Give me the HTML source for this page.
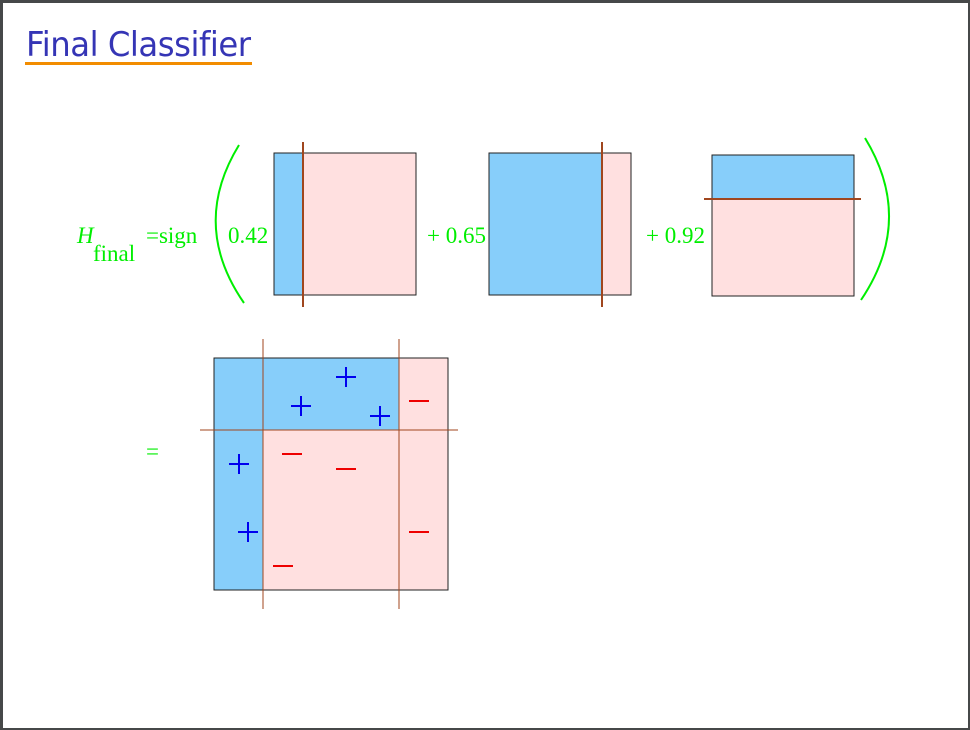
<!DOCTYPE html>
<html><head><meta charset="utf-8"><style>
html,body{margin:0;padding:0}
body{width:970px;height:730px;background:#464849;position:relative;overflow:hidden}
#slide{position:absolute;left:3px;top:3px;width:965px;height:725px;background:#fff}
#title{position:absolute;left:23px;top:22px;font:34px "DejaVu Sans","Liberation Sans",sans-serif;color:#3535b5;letter-spacing:-0.5px;transform:scaleX(0.95);transform-origin:0 0}
#ul{position:absolute;left:22px;top:59px;width:227px;height:3px;background:#f28c00}
</style></head><body>
<div id="slide">
<div id="title">Final Classifier</div>
<div id="ul"></div>
</div>
<svg width="970" height="730" style="position:absolute;left:0;top:0">
<g font-family="Liberation Serif, serif" font-size="23" fill="#00ee00">
<text x="77" y="243" font-style="italic">H</text>
<text x="93" y="261">final</text>
<text x="146" y="243">=sign</text>
<text x="228" y="243">0.42</text>
<text x="427" y="243">+ 0.65</text>
<text x="646" y="243">+ 0.92</text>
<text x="146" y="459">=</text>
</g>
<path d="M239,145 Q190,225 244,303" fill="none" stroke="#00ee00" stroke-width="2"/>
<path d="M865,138 Q915,220 861,300" fill="none" stroke="#00ee00" stroke-width="2"/>
<g>
<rect x="274" y="153" width="29" height="142" fill="#87cefa"/>
<rect x="303" y="153" width="113" height="142" fill="#ffe0e0"/>
<rect x="274" y="153" width="142" height="142" fill="none" stroke="#222" stroke-width="1"/>
<line x1="303" y1="142" x2="303" y2="307" stroke="#a0461e" stroke-width="2"/>
</g>
<g>
<rect x="489" y="153" width="113" height="142" fill="#87cefa"/>
<rect x="602" y="153" width="29" height="142" fill="#ffe0e0"/>
<rect x="489" y="153" width="142" height="142" fill="none" stroke="#222" stroke-width="1"/>
<line x1="602" y1="142" x2="602" y2="307" stroke="#a0461e" stroke-width="2"/>
</g>
<g>
<rect x="712" y="155" width="142" height="44" fill="#87cefa"/>
<rect x="712" y="199" width="142" height="97" fill="#ffe0e0"/>
<rect x="712" y="155" width="142" height="141" fill="none" stroke="#222" stroke-width="1"/>
<line x1="704" y1="199" x2="861" y2="199" stroke="#a0461e" stroke-width="2"/>
</g>
<g>
<rect x="214" y="358" width="234" height="232" fill="#ffe0e0"/>
<rect x="214" y="358" width="49" height="232" fill="#87cefa"/>
<rect x="263" y="358" width="136" height="72" fill="#87cefa"/>
<rect x="214" y="358" width="234" height="232" fill="none" stroke="#222" stroke-width="1"/>
<line x1="263" y1="339" x2="263" y2="609" stroke="#a0461e" stroke-width="1"/>
<line x1="399" y1="339" x2="399" y2="609" stroke="#a0461e" stroke-width="1"/>
<line x1="200" y1="430" x2="458" y2="430" stroke="#a0461e" stroke-width="1"/>
</g>
<g stroke="#0000ee" stroke-width="2">
<path d="M336,377h20M346,367v20"/>
<path d="M291,406h20M301,396v20"/>
<path d="M370,416h20M380,406v20"/>
<path d="M229,464h20M239,454v20"/>
<path d="M238,532h20M248,522v20"/>
</g>
<g stroke="#ee0000" stroke-width="2">
<path d="M409,401h20"/>
<path d="M282,454h20"/>
<path d="M336,469h20"/>
<path d="M409,532h20"/>
<path d="M273,566h20"/>
</g>
</svg>
</body></html>
